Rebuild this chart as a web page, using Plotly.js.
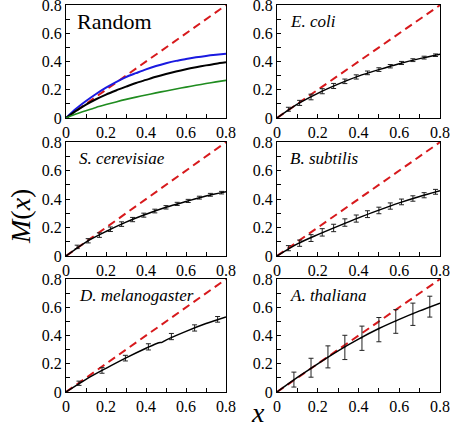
<!DOCTYPE html>
<html>
<head>
<meta charset="utf-8">
<script src="https://cdn.plot.ly/plotly-3.0.1.min.js"></script>
<style>
html,body{margin:0;padding:0;background:#fff;}
#chart{width:450px;height:430px;}
#chart text{font-family:'Liberation Serif','DejaVu Serif',serif !important;}
</style>
</head>
<body>
<div id="chart"></div>
<script>
// ---------- data ----------
const diagX = [0, 0.8];
const diagY = [0, 0.8];

// Random panel curves
const randX = [0,0.05,0.1,0.15,0.2,0.25,0.3,0.35,0.4,0.45,0.5,0.55,0.6,0.65,0.7,0.75,0.8];
const randBlue = [0,0.065,0.12,0.17,0.215,0.255,0.29,0.318,0.345,0.368,0.388,0.405,0.418,0.43,0.44,0.448,0.455];
const randBlack = [0,0.05,0.095,0.133,0.166,0.195,0.222,0.248,0.27,0.292,0.312,0.33,0.346,0.36,0.373,0.385,0.395];
const randGreen = [0,0.028,0.052,0.075,0.095,0.114,0.132,0.148,0.163,0.178,0.192,0.206,0.219,0.232,0.244,0.256,0.267];

// points shared by E. coli, S. cerevisiae, B. subtilis
const ptX18 = [0.056,0.111,0.167,0.222,0.278,0.333,0.389,0.444,0.5,0.556,0.611,0.667,0.722,0.778];

const ecoliY   = [0.062,0.107,0.149,0.19,0.227,0.26,0.291,0.32,0.343,0.367,0.39,0.41,0.428,0.445];
const ecoliErr = [0.014,0.018,0.02,0.018,0.018,0.016,0.015,0.013,0.013,0.012,0.011,0.01,0.01,0.009];
const scerY    = [0.064,0.107,0.147,0.188,0.224,0.256,0.287,0.316,0.342,0.366,0.387,0.41,0.43,0.445];
const scerErr  = [0.012,0.015,0.016,0.016,0.016,0.015,0.014,0.013,0.012,0.011,0.011,0.01,0.01,0.009];
const bsubY    = [0.055,0.09,0.126,0.166,0.197,0.235,0.263,0.294,0.32,0.351,0.38,0.404,0.427,0.451];
const bsubErr  = [0.018,0.022,0.024,0.026,0.026,0.026,0.025,0.024,0.023,0.022,0.02,0.019,0.018,0.017];

const fitX = [0,0.1,0.2,0.3,0.4,0.5,0.6,0.7,0.8];
const ecoliFit = [0,0.098,0.175,0.24,0.297,0.343,0.385,0.421,0.452];
const scerFit  = [0,0.098,0.172,0.238,0.293,0.342,0.383,0.422,0.452];
const bsubFit  = [0,0.085,0.15,0.21,0.268,0.322,0.373,0.418,0.458];

// D. melanogaster
const dmelX   = [0.065,0.18,0.297,0.412,0.527,0.643,0.758];
const dmelY   = [0.062,0.153,0.24,0.32,0.393,0.454,0.515];
const dmelErr = [0.015,0.02,0.02,0.022,0.022,0.022,0.02];
const dmelFitX = [0,0.1,0.2,0.3,0.4,0.46,0.48,0.5,0.6,0.7,0.8];
const dmelFitY = [0,0.09,0.168,0.242,0.31,0.348,0.352,0.368,0.43,0.485,0.532];

// A. thaliana
const athX   = [0.083,0.167,0.25,0.333,0.417,0.5,0.583,0.667,0.75];
const athY   = [0.088,0.172,0.249,0.316,0.381,0.442,0.5,0.551,0.605];
const athErr = [0.053,0.067,0.078,0.086,0.086,0.086,0.084,0.079,0.074];
const athFit = [0,0.103,0.2,0.292,0.375,0.45,0.515,0.575,0.63];

const panelLabels = ['Random','<i>E. coli</i>','<i>S. cerevisiae</i>','<i>B. subtilis</i>','<i>D. melanogaster</i>','<i>A. thaliana</i>'];
const tickVals = [0,0.1,0.2,0.3,0.4,0.5,0.6,0.7,0.8];
const tickText = ['0','','0.2','','0.4','','0.6','','0.8'];

// ---------- build ----------
const RED = '#d7191c';
const SERIF = 'Liberation Serif';
const traces = [];
const axSuffix = ['', '2', '3', '4', '5', '6'];

function ref(i){ return {xaxis: 'x' + axSuffix[i], yaxis: 'y' + axSuffix[i]}; }

function diag(i){
  traces.push(Object.assign({x: diagX, y: diagY, mode: 'lines', line: {color: RED, width: 2, dash: '8px,5px'}, hoverinfo: 'skip'}, ref(i)));
}
function curve(i, x, y, color, width){
  traces.push(Object.assign({x: x, y: y, mode: 'lines', line: {color: color, width: width, shape: 'spline', smoothing: 0.8}}, ref(i)));
}
function pts(i, x, y, e){
  traces.push(Object.assign({x: x, y: y, mode: 'markers', marker: {size: 1, color: '#222'},
    error_y: {type: 'data', array: e, visible: true, color: '#222', thickness: 1, width: 2.5}}, ref(i)));
}

// panel 0: Random
diag(0);
curve(0, randX, randBlue, '#1a1ae0', 2);
curve(0, randX, randBlack, '#000', 2);
curve(0, randX, randGreen, '#1f8c1f', 1.6);
// E. coli
diag(1); pts(1, ptX18, ecoliY, ecoliErr); curve(1, fitX, ecoliFit, '#000', 1.5);
// S. cerevisiae
diag(2); pts(2, ptX18, scerY, scerErr); curve(2, fitX, scerFit, '#000', 1.5);
// B. subtilis
diag(3); pts(3, ptX18, bsubY, bsubErr); curve(3, fitX, bsubFit, '#000', 1.5);
// D. melanogaster
diag(4); pts(4, dmelX, dmelY, dmelErr); curve(4, dmelFitX, dmelFitY, '#000', 1.5);
// A. thaliana
diag(5); pts(5, athX, athY, athErr); curve(5, fitX, athFit, '#000', 1.5);

const W = 450, H = 430;
const cols = [[66, 226], [277, 440]];
const rows = [[5, 118], [142, 256], [279, 392]];

const layout = {
  width: W, height: H,
  margin: {l: 0, r: 0, t: 0, b: 0, autoexpand: false},
  paper_bgcolor: '#fff', plot_bgcolor: '#fff',
  showlegend: false,
  font: {family: SERIF, color: '#000', size: 16},
  annotations: []
};

for (let i = 0; i < 6; i++) {
  const c = cols[i % 2], r = rows[Math.floor(i / 2)];
  const common = {
    tickvals: tickVals, ticktext: tickText,
    ticks: 'inside', ticklen: 4, tickwidth: 1, tickcolor: '#000',
    showline: true, linecolor: '#000', linewidth: 1, mirror: true,
    showgrid: false, zeroline: false, fixedrange: true, automargin: false,
    ticklabeloverflow: 'allow',
    tickfont: {family: SERIF, size: 16, color: '#000'}
  };
  layout['xaxis' + axSuffix[i]] = Object.assign({}, common, {
    range: [0, 0.8], domain: [c[0] / W, c[1] / W], anchor: 'y' + axSuffix[i]
  });
  layout['yaxis' + axSuffix[i]] = Object.assign({}, common, {
    range: [0, 0.801], domain: [1 - r[1] / H, 1 - r[0] / H], anchor: 'x' + axSuffix[i]
  });
  layout.annotations.push({
    text: panelLabels[i], xref: 'x' + axSuffix[i] + ' domain', yref: 'y' + axSuffix[i] + ' domain',
    x: i === 0 ? 0.055 : 0.07, y: i === 0 ? 0.985 : 0.96, xanchor: 'left', yanchor: 'top', showarrow: false,
    font: {family: SERIF, size: i === 0 ? 22 : 17, color: '#000'}
  });
}

layout.annotations.push({
  text: '<i>M</i>(<i>x</i>)', xref: 'paper', yref: 'paper', x: 20 / W, y: 1 - 217 / H,
  xanchor: 'center', yanchor: 'middle',
  textangle: -90, showarrow: false, font: {family: SERIF, size: 28, color: '#000'}
});
layout.annotations.push({
  text: '<i>x</i>', xref: 'paper', yref: 'paper', x: 258 / W, y: 0,
  xanchor: 'center', yanchor: 'bottom',
  showarrow: false, font: {family: SERIF, size: 28, color: '#000'}
});

Plotly.newPlot('chart', traces, layout, {staticPlot: true, displayModeBar: false});
</script>
</body>
</html>
